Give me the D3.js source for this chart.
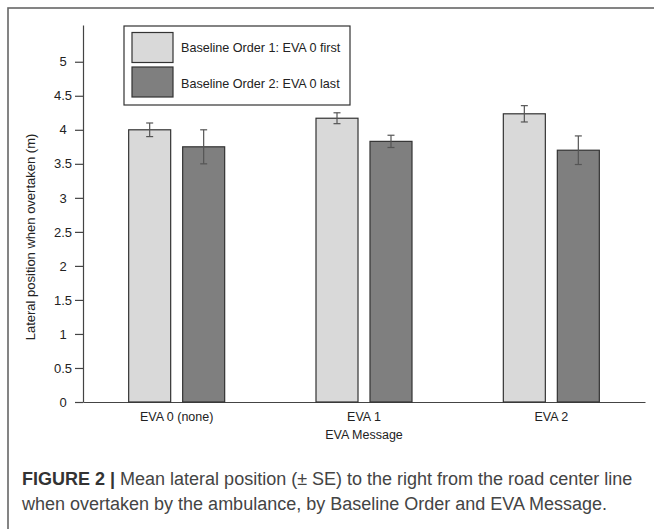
<!DOCTYPE html>
<html>
<head>
<meta charset="utf-8">
<script src="https://cdn.jsdelivr.net/npm/d3@7"></script>
<style>
  body { margin: 0; background: #fff; }
  svg { display: block; font-family: "Liberation Sans", Arial, sans-serif; }
</style>
</head>
<body>
<div id="chart"></div>
<script>
var categories = ["EVA 0 (none)", "EVA 1", "EVA 2"];
var seriesNames = ["Baseline Order 1: EVA 0 first", "Baseline Order 2: EVA 0 last"];
var order1Means = [4.00, 4.17, 4.235];
var order1SE = [0.10, 0.08, 0.12];
var order2Means = [3.75, 3.83, 3.70];
var order2SE = [0.25, 0.09, 0.21];
var yTicks = [0, 0.5, 1, 1.5, 2, 2.5, 3, 3.5, 4, 4.5, 5];
var captionLines = [
    ["FIGURE 2 | ", "Mean lateral position (\u00b1 SE) to the right from the road center line"],
    ["", "when overtaken by the ambulance, by Baseline Order and EVA Message."]
];

var W = 654, H = 529;
var fills = ["#d9d9d9", "#7f7f7f"];

var svg = d3.select("#chart").append("svg")
    .attr("width", W)
    .attr("height", H);

// figure frame (only top and left edge fall inside the window)
svg.append("rect")
    .attr("x", 8).attr("y", 8)
    .attr("width", W).attr("height", H)
    .attr("fill", "none")
    .attr("stroke", "#666")
    .attr("stroke-width", 1.6);

var x = d3.scaleBand().domain(categories).range([83, 645]).padding(0);
var y = d3.scaleLinear().domain([0, 5.54]).range([402, 25]);

var rows = [];
categories.forEach(function (c, i) {
    rows.push({cat: c, s: 0, v: order1Means[i], se: order1SE[i]});
    rows.push({cat: c, s: 1, v: order2Means[i], se: order2SE[i]});
});

function inner(cat) {
    var mid = x(cat) + x.bandwidth() / 2;
    return d3.scaleBand().domain([0, 1]).range([mid - 48, mid + 48]).paddingInner(0.222);
}

// axes
var yAxis = svg.append("g")
    .attr("transform", "translate(83,0)")
    .call(d3.axisLeft(y).tickValues(yTicks).tickFormat(function (d) { return String(d); })
        .tickSize(8).tickSizeOuter(0));
yAxis.selectAll("text")
    .attr("x", -20)
    .attr("text-anchor", "middle")
    .style("font-size", "13px")
    .attr("fill", "#222");

var xAxis = svg.append("g")
    .attr("transform", "translate(0,402)")
    .call(d3.axisBottom(x).tickSize(0).tickSizeOuter(0).tickPadding(10));
xAxis.selectAll("text")
    .style("font-size", "12.5px")
    .attr("fill", "#222");

svg.selectAll(".domain, .tick line").attr("stroke", "#444").attr("stroke-width", 1.2);

// bars
svg.append("g").selectAll("rect")
    .data(rows)
    .enter()
    .append("rect")
    .attr("x", function (d) { return inner(d.cat)(d.s); })
    .attr("width", function (d) { return inner(d.cat).bandwidth(); })
    .attr("y", function (d) { return y(d.v); })
    .attr("height", function (d) { return y(0) - y(d.v); })
    .attr("fill", function (d) { return fills[d.s]; })
    .attr("stroke", "#333")
    .attr("stroke-width", 1.2);

// error bars
var eb = svg.append("g").selectAll("g")
    .data(rows)
    .enter()
    .append("g")
    .attr("stroke", "#555")
    .attr("stroke-width", 1.2);
function cx(d) { var s = inner(d.cat); return s(d.s) + s.bandwidth() / 2; }
eb.append("line")
    .attr("x1", cx).attr("x2", cx)
    .attr("y1", function (d) { return y(d.v + d.se); })
    .attr("y2", function (d) { return y(d.v - d.se); });
[1, -1].forEach(function (k) {
    eb.append("line")
        .attr("x1", function (d) { return cx(d) - 3.5; })
        .attr("x2", function (d) { return cx(d) + 3.5; })
        .attr("y1", function (d) { return y(d.v + k * d.se); })
        .attr("y2", function (d) { return y(d.v + k * d.se); });
});

// axis titles
svg.append("text")
    .attr("x", 364).attr("y", 439)
    .attr("text-anchor", "middle")
    .style("font-size", "12.5px")
    .attr("fill", "#222")
    .text("EVA Message");
svg.append("text")
    .attr("transform", "translate(35,237) rotate(-90)")
    .attr("text-anchor", "middle")
    .style("font-size", "13px")
    .attr("fill", "#222")
    .text("Lateral position when overtaken (m)");

// legend
var lg = svg.append("g");
lg.append("rect")
    .attr("x", 124).attr("y", 26)
    .attr("width", 226).attr("height", 79)
    .attr("fill", "#fff")
    .attr("stroke", "#333")
    .attr("stroke-width", 1.2);
seriesNames.forEach(function (name, i) {
    lg.append("rect")
        .attr("x", 132).attr("y", 32.5 + i * 34.5)
        .attr("width", 41).attr("height", 30)
        .attr("fill", fills[i])
        .attr("stroke", "#333")
        .attr("stroke-width", 1.2);
    lg.append("text")
        .attr("x", 181).attr("y", 52 + i * 36)
        .style("font-size", "12.6px")
        .attr("fill", "#222")
        .text(name);
});

// caption
captionLines.forEach(function (ln, i) {
    var t = svg.append("text")
        .attr("x", 22).attr("y", 485 + i * 25)
        .style("font-size", "18px")
        .attr("fill", "#444");
    if (ln[0]) t.append("tspan").style("font-weight", "bold").attr("fill", "#333").text(ln[0]);
    t.append("tspan").text(ln[1]);
});
</script>
</body>
</html>
